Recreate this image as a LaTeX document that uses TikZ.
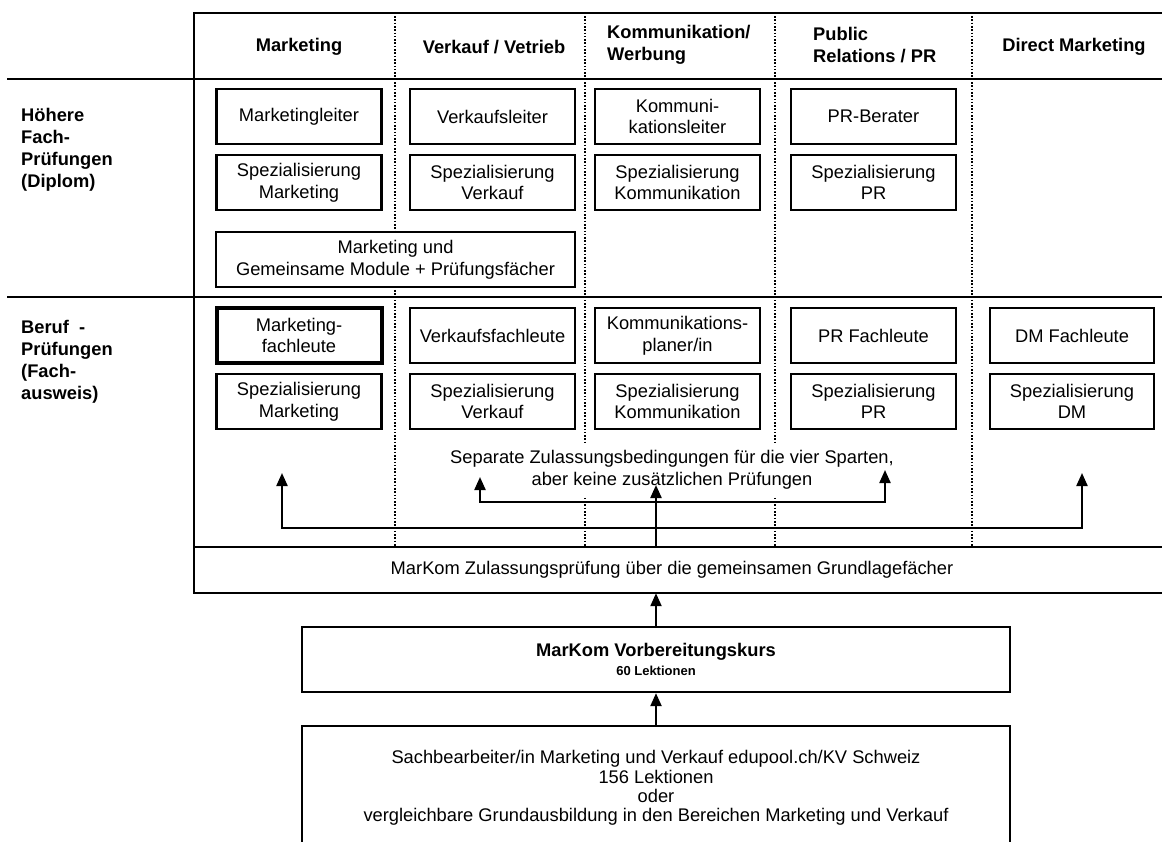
\documentclass[tikz,border=0pt]{standalone}
\usepackage{fontspec}
\setmainfont{Liberation Sans}
\usetikzlibrary{arrows.meta}

\newcommand{\boxfont}{\fontsize{18.3}{21.7}\selectfont}
\newcommand{\kleinfont}{\fontsize{13}{15}\selectfont}

\tikzset{
  stufe/.style={draw,fill=white,line width=2.3pt,minimum width=165pt,minimum height=55pt,align=center,inner sep=2pt},
  kopf/.style={font=\boxfont\bfseries,align=left,inner sep=0pt},
  trenn/.style={line width=2.3pt,dash pattern=on 1.6pt off 1.7pt},
  rahmen/.style={line width=2.3pt},
  pfeil/.style={line width=2.2pt,->},
}

\begin{document}
\begin{tikzpicture}[x=1pt,y=-1pt,>={Triangle[width=11pt,length=13pt]},font=\boxfont]
  \clip (0,0) rectangle (1162,841);
  % Rahmen und Spalten
  \draw[rahmen] (1170,12.7) -- (194,12.7) -- (194,593) -- (1170,593);
  \draw[rahmen] (7,79) -- (1170,79);
  \draw[rahmen] (7,297) -- (1170,297);
  \draw[rahmen] (194,547) -- (1170,547);
  \draw[trenn] (395,12.7) -- (395,547);
  \draw[trenn] (585,12.7) -- (585,547);
  \draw[trenn] (775,12.7) -- (775,547);
  \draw[trenn] (972,12.7) -- (972,547);
  % Kopfzeile
  \node[kopf] (kmar) at (299,47) {Marketing};
  \node[kopf] (kver) at (494,47) {Verkauf / Vetrieb};
  \node[kopf,anchor=west] (kkom) at (607,45) {Kommunikation/\\Werbung};
  \node[kopf,anchor=west] (kpr) at (813,45) {Public\\Relations / PR};
  \node[kopf] (kdm) at (1074,47) {Direct Marketing};
  \node[kopf,anchor=west,font=\fontsize{18.3}{22}\selectfont\bfseries] (hfp) at (21,150) {Höhere\\Fach-\\Prüfungen\\(Diplom)};
  \node[kopf,anchor=west,font=\fontsize{18.3}{22}\selectfont\bfseries] (bp) at (21,362) {Beruf\ \ -\\Prüfungen\\(Fach-\\ausweis)};
  % Hoehere Fachpruefungen
  \node[stufe] (mleiter) at (299,116.5) {Marketingleiter};
  \node[stufe] (vleiter) at (492.5,116.5) {Verkaufsleiter};
  \node[stufe] (kleiter) at (677.5,116.5) {Kommuni-\\kationsleiter};
  \node[stufe] (prber) at (873.5,116.5) {PR-Berater};
  \node[stufe] (hspm) at (299,182.5) {Spezialisierung\\Marketing};
  \node[stufe] (hspv) at (492.5,182.5) {Spezialisierung\\Verkauf};
  \node[stufe] (hspk) at (677.5,182.5) {Spezialisierung\\Kommunikation};
  \node[stufe] (hsppr) at (873.5,182.5) {Spezialisierung\\PR};
  \node[stufe,minimum width=359pt] (gemein) at (395.5,259.5) {Marketing und\\Gemeinsame Module + Prüfungsfächer};
  % Berufspruefungen
  \node[stufe,line width=4pt] (mfach) at (299,335.5) {Marketing-\\fachleute};
  \node[stufe] (vfach) at (492.5,335.5) {Verkaufsfachleute};
  \node[stufe] (kplan) at (677.5,335.5) {Kommunikations-\\planer/in};
  \node[stufe] (prfach) at (873.5,335.5) {PR Fachleute};
  \node[stufe,minimum width=163.5pt] (dmfach) at (1072,335.5) {DM Fachleute};
  \node[stufe] (bspm) at (299,401.5) {Spezialisierung\\Marketing};
  \node[stufe] (bspv) at (492.5,401.5) {Spezialisierung\\Verkauf};
  \node[stufe] (bspk) at (677.5,401.5) {Spezialisierung\\Kommunikation};
  \node[stufe] (bsppr) at (873.5,401.5) {Spezialisierung\\PR};
  \node[stufe,minimum width=163.5pt] (bspdm) at (1072,401.5) {Spezialisierung\\DM};
  \node[fill=white,align=center,inner xsep=0pt,inner ysep=8pt] (bed) at (672,470) {Separate Zulassungsbedingungen für die vier Sparten,\\aber keine zusätzlichen Prüfungen};
  % Zulassung und Vorbereitung
  \node[minimum width=956pt,minimum height=46pt] (zul) at (672,570) {MarKom Zulassungsprüfung über die gemeinsamen Grundlagefächer};
  \node[stufe,minimum width=708pt,minimum height=65pt] (vorb) at (656,659.5) {{\bfseries MarKom Vorbereitungskurs}\\[-3pt]{\kleinfont\bfseries 60 Lektionen}};
  \node[stufe,minimum width=708pt,minimum height=124pt,anchor=north,font=\fontsize{18.3}{19.3}\selectfont] (grund) at (656,725) {Sachbearbeiter/in Marketing und Verkauf edupool.ch/KV Schweiz\\156 Lektionen\\oder\\vergleichbare Grundausbildung in den Bereichen Marketing und Verkauf};
  % Pfeile
  \coordinate (mitte) at (656,485);
  \coordinate (innen) at (656,502);
  \coordinate (aussen) at (656,528);
  \coordinate (zmar) at (282,473);
  \coordinate (zver) at (480,477);
  \coordinate (zpr) at (885,470);
  \coordinate (zdm) at (1082,473);
  \draw[pfeil] (grund.north) -- (vorb.south);
  \draw[pfeil] (vorb.north) -- (vorb.north |- zul.south);
  \draw[pfeil] (vorb.north |- zul.north) -- (mitte);
  \draw[pfeil] (innen) -| (zver);
  \draw[pfeil] (innen) -| (zpr);
  \draw[pfeil] (aussen) -| (zmar);
  \draw[pfeil] (aussen) -| (zdm);
\end{tikzpicture}
\end{document}
